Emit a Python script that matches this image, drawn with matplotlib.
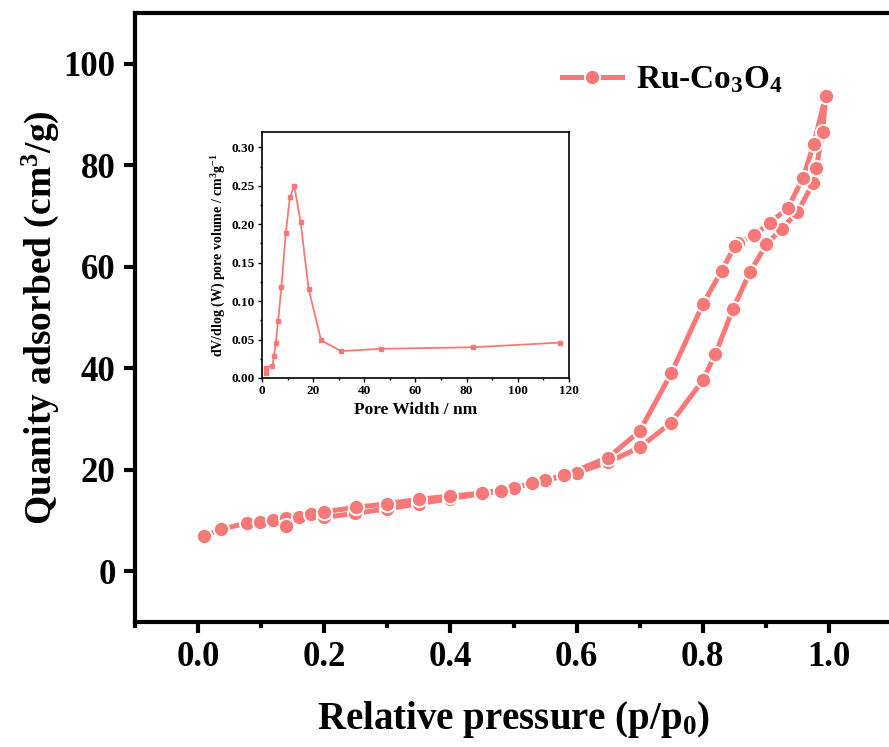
import numpy as np
import matplotlib
matplotlib.use("Agg")
import matplotlib.pyplot as plt
from matplotlib.ticker import MultipleLocator

plt.rcParams['font.family'] = ['Liberation Serif', 'DejaVu Serif']
plt.rcParams['font.weight'] = 'bold'
plt.rcParams['mathtext.fontset'] = 'custom'
plt.rcParams['mathtext.rm'] = 'Liberation Serif:bold'
plt.rcParams['mathtext.it'] = 'Liberation Serif:italic:bold'
plt.rcParams['mathtext.bf'] = 'Liberation Serif:bold'
plt.rcParams['mathtext.default'] = 'rm'

# ---- main isotherm data ----
ads_p = [0.01, 0.037, 0.078, 0.098, 0.118, 0.139, 0.16, 0.179, 0.20, 0.248, 0.30,
         0.35, 0.40, 0.45, 0.50, 0.55, 0.60, 0.65, 0.70, 0.75, 0.80, 0.82, 0.848,
         0.875, 0.901, 0.925, 0.95, 0.975, 0.98, 0.99, 0.995]
ads_q = [7.0, 8.3, 9.5, 9.8, 10.1, 10.4, 10.7, 11.2, 10.6, 11.4, 12.3,
         13.3, 14.3, 15.3, 16.4, 17.9, 19.4, 21.5, 24.4, 29.3, 37.6, 42.8, 51.7,
         59.0, 64.4, 67.5, 70.7, 76.5, 79.5, 86.5, 93.7]
des_p = [0.976, 0.959, 0.935, 0.906, 0.881, 0.856, 0.851, 0.83, 0.80, 0.75,
         0.70, 0.65, 0.58, 0.53, 0.48, 0.45, 0.40, 0.35, 0.30, 0.25, 0.20, 0.14]
des_q = [84.2, 77.5, 71.6, 68.6, 66.2, 64.6, 64.1, 59.2, 52.6, 39.0,
         27.6, 22.4, 18.9, 17.3, 15.8, 15.4, 14.8, 14.2, 13.3, 12.6, 11.7, 9.0]

# ---- inset pore size distribution ----
pore_w = [1.5, 1.5, 4.1, 4.7, 5.4, 6.3, 7.6, 9.3, 10.9, 12.6, 15.1, 18.2,
          23.1, 30.9, 46.6, 82.5, 116.3]
pore_v = [0.007, 0.013, 0.016, 0.029, 0.046, 0.074, 0.119, 0.189, 0.235, 0.250,
          0.203, 0.116, 0.049, 0.035, 0.038, 0.040, 0.046]

color = '#F87878'

fig = plt.figure(figsize=(8.89, 7.47), dpi=100)
ax = fig.add_axes([135/889, 1-622/747, (892-135)/889, (622-13)/747])

p_all = np.concatenate([ads_p, des_p])
q_all = np.concatenate([ads_q, des_q])
ax.plot(p_all, q_all, '-o', color=color, lw=3.6, ms=11,
        markeredgecolor='white', markeredgewidth=1.4, label=r'Ru-Co$_3$O$_4$')

ax.set_xlim(-0.1, 1.1)
ax.set_ylim(-10, 110)
ax.xaxis.set_minor_locator(MultipleLocator(0.1))
ax.yaxis.set_major_locator(MultipleLocator(20))
ax.set_xticks([0.0, 0.2, 0.4, 0.6, 0.8, 1.0])
ax.set_xticklabels(['0.0', '0.2', '0.4', '0.6', '0.8', '1.0'])
ax.tick_params(axis='both', which='major', direction='out', length=8, width=3,
               labelsize=25, pad=6)
ax.tick_params(axis='x', which='minor', direction='out', length=4, width=3)
for s in ax.spines.values():
    s.set_linewidth(3)
for lab in ax.get_xticklabels() + ax.get_yticklabels():
    lab.set_fontweight('bold')

ax.set_xlabel(r'Relative pressure (p/p$_0$)', fontsize=28, fontweight='bold', labelpad=18)
ax.set_ylabel(r'Quanity adsorbed (cm$^3$/g)', fontsize=27, fontweight='bold', labelpad=2)

leg = ax.legend(loc='upper left', bbox_to_anchor=(0.525, 0.965), frameon=False,
                handlelength=1.8, handletextpad=0.4,
                prop={'size': 24, 'weight': 'bold'})

# ---- inset ----
ins = fig.add_axes([262/889, 1-378/747, (569-262)/889, (378-132)/747])
ins.plot(pore_w, pore_v, '-s', color=color, lw=1.3, ms=3.2)
ins.set_xlim(0, 120)
ins.set_ylim(0, 0.32)
ins.xaxis.set_major_locator(MultipleLocator(20))
ins.xaxis.set_minor_locator(MultipleLocator(10))
ins.yaxis.set_minor_locator(MultipleLocator(0.025))
ins.set_yticks([0.0, 0.05, 0.10, 0.15, 0.20, 0.25, 0.30])
ins.set_yticklabels(['0.00', '0.05', '0.10', '0.15', '0.20', '0.25', '0.30'])
ins.tick_params(axis='both', which='major', direction='out', length=3, width=1,
                labelsize=9.5, pad=2)
ins.tick_params(axis='both', which='minor', direction='out', length=1.5, width=1)
for s in ins.spines.values():
    s.set_linewidth(1.2)
for lab in ins.get_xticklabels() + ins.get_yticklabels():
    lab.set_fontweight('bold')
ins.set_xlabel('Pore Width / nm', fontsize=12.5, fontweight='bold', labelpad=4)
ins.set_ylabel(r'dV/dlog (W) pore volume / cm$^3$g$^{-1}$', fontsize=10,
               fontweight='bold', labelpad=3)

fig.savefig('out.png', dpi=100)
